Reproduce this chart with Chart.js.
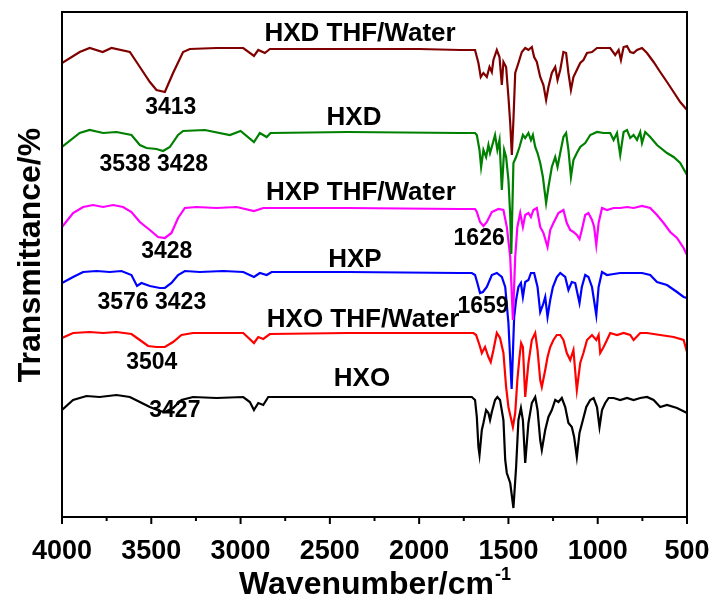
<!DOCTYPE html>
<html>
<head>
<meta charset="utf-8">
<title>FTIR spectra</title>
<script src="https://cdn.jsdelivr.net/npm/chart.js@4.4.1/dist/chart.umd.min.js"></script>
<style>
  html, body { margin: 0; padding: 0; background: #fff; }
  canvas { display: block; }
</style>
</head>
<body>
<canvas id="ftir" width="716" height="601"></canvas>
<script>
// spectra: [wavenumber (cm-1), transmittance with vertical offset (a.u.)]
const hxdWater = [[4000,454],[3901,465],[3845,469],[3772,465],[3723,469],[3620,465],[3564,450],[3508,435],[3471,427],[3424,425],[3378,444],[3322,465],[3284,468],[3135,469],[2985,469],[2925,461],[2901,467],[2864,464],[2836,468],[2400,468],[2000,468],[1771,467],[1687,467],[1668,454],[1655,440],[1640,444],[1621,440],[1606,450],[1593,445],[1584,457],[1565,467],[1550,460],[1537,432],[1528,455],[1513,450],[1500,420],[1490,394],[1481,362],[1472,397],[1462,444],[1444,454],[1425,465],[1406,469],[1388,467],[1369,470],[1356,460],[1341,455],[1322,440],[1304,432],[1289,417],[1276,430],[1257,444],[1238,450],[1225,437],[1210,447],[1192,465],[1177,464],[1164,444],[1150,427],[1136,440],[1117,447],[1098,454],[1080,457],[1060,464],[1032,465],[1004,469],[967,469],[930,469],[902,462],[883,467],[870,457],[855,470],[836,471],[818,465],[799,464],[780,467],[752,469],[724,464],[687,455],[650,445],[612,435],[575,425],[538,415],[500,407]];
const hxd = [[4000,370],[3901,384],[3845,387],[3770,384],[3695,385],[3611,382],[3564,372],[3527,369],[3471,368],[3434,366],[3396,370],[3350,382],[3322,386],[3200,387],[3060,382],[3000,386],[2925,375],[2892,384],[2854,380],[2832,384],[2400,385],[1771,384],[1687,384],[1677,382],[1662,367],[1653,350],[1640,367],[1625,360],[1612,372],[1603,364],[1587,374],[1575,382],[1562,367],[1550,377],[1537,327],[1524,367],[1513,360],[1500,337],[1490,302],[1484,263],[1472,354],[1457,360],[1438,370],[1419,382],[1406,379],[1388,384],[1374,377],[1363,382],[1350,370],[1337,364],[1322,354],[1307,340],[1289,314],[1276,330],[1257,350],[1238,360],[1225,350],[1210,364],[1192,380],[1177,384],[1164,367],[1150,340],[1136,357],[1117,364],[1098,370],[1070,374],[1042,382],[1004,385],[967,384],[930,384],[911,377],[892,384],[874,362],[855,385],[836,387],[818,379],[799,382],[780,377],[762,385],[752,374],[734,385],[706,380],[668,372],[612,364],[575,360],[538,354],[500,342]];
const hxpWater = [[4000,290],[3938,304],[3882,310],[3826,312],[3770,310],[3714,312],[3658,310],[3611,305],[3564,295],[3508,287],[3462,280],[3424,279],[3387,284],[3350,299],[3312,309],[3247,310],[3135,309],[3022,310],[2925,306],[2873,309],[2400,309],[1771,308],[1687,308],[1677,305],[1659,295],[1640,291],[1621,295],[1593,305],[1556,308],[1528,307],[1509,290],[1490,260],[1475,197],[1462,260],[1450,290],[1434,304],[1419,290],[1406,302],[1388,304],[1374,300],[1360,307],[1341,309],[1322,290],[1304,284],[1281,270],[1266,287],[1248,294],[1220,304],[1192,307],[1173,294],[1154,287],[1136,285],[1117,282],[1102,278],[1089,287],[1070,302],[1052,304],[1032,297],[1020,290],[1008,272],[995,294],[976,309],[948,307],[911,309],[874,309],[836,310],[799,309],[752,311],[706,309],[668,302],[631,294],[594,285],[556,279],[519,269],[500,262]];
const hxp = [[4000,234],[3938,240],[3882,245],[3807,246],[3733,245],[3667,246],[3611,242],[3580,231],[3555,234],[3508,231],[3452,229],[3424,229],[3387,234],[3350,242],[3312,246],[3228,245],[3097,246],[2985,245],[2925,240],[2892,244],[2854,242],[2826,245],[2400,245],[1771,244],[1705,244],[1687,242],[1674,234],[1659,224],[1643,225],[1621,230],[1593,242],[1565,244],[1537,240],[1518,230],[1500,194],[1482,128],[1468,200],[1457,217],[1444,230],[1430,234],[1419,220],[1406,235],[1388,237],[1374,244],[1356,244],[1337,230],[1322,205],[1307,212],[1294,220],[1281,200],[1266,217],[1251,230],[1229,240],[1210,244],[1182,240],[1164,227],[1145,235],[1126,234],[1102,214],[1089,230],[1070,242],[1052,240],[1032,230],[1008,202],[995,230],[976,245],[948,242],[911,243],[874,244],[836,244],[799,244],[752,244],[706,242],[668,235],[612,232],[556,225],[519,220],[500,219]];
const hxoWater = [[4000,179],[3938,184],[3845,185],[3770,184],[3695,185],[3611,183],[3564,177],[3518,171],[3471,170],[3424,170],[3378,175],[3331,182],[3266,184],[3135,184],[2985,184],[2925,174],[2901,180],[2873,178],[2836,183],[2400,184],[1771,184],[1696,184],[1681,182],[1662,172],[1649,164],[1631,170],[1612,160],[1599,155],[1584,167],[1565,184],[1547,179],[1528,164],[1513,130],[1500,110],[1475,90],[1462,104],[1450,137],[1438,160],[1429,174],[1419,170],[1406,120],[1388,154],[1369,177],[1350,184],[1337,167],[1322,137],[1313,130],[1294,147],[1281,160],[1266,170],[1248,177],[1229,182],[1210,182],[1192,177],[1173,164],[1154,157],[1136,167],[1117,127],[1098,154],[1080,164],[1060,177],[1032,182],[1008,177],[995,182],[986,164],[967,170],[948,177],[930,184],[892,182],[855,184],[818,182],[799,177],[762,184],[724,184],[650,182],[575,180],[519,177],[500,165]];
const hxo = [[4000,107],[3938,117],[3863,121],[3789,120],[3695,122],[3620,120],[3564,115],[3508,110],[3452,106],[3424,105],[3378,109],[3331,117],[3266,120],[3135,119],[2985,120],[2948,115],[2925,107],[2901,114],[2873,112],[2845,120],[2400,120],[1771,120],[1705,120],[1687,117],[1677,100],[1668,70],[1662,62],[1649,87],[1640,94],[1625,107],[1612,104],[1603,97],[1593,105],[1575,117],[1562,120],[1547,117],[1528,97],[1518,57],[1509,44],[1490,34],[1472,9],[1457,50],[1444,97],[1430,109],[1419,97],[1406,54],[1388,94],[1369,114],[1350,120],[1337,107],[1322,77],[1313,67],[1294,87],[1276,100],[1257,107],[1238,117],[1220,115],[1201,119],[1182,110],[1164,94],[1145,90],[1132,80],[1117,60],[1102,84],[1083,97],[1064,110],[1042,117],[1023,119],[1004,110],[990,90],[976,107],[958,114],[939,119],[911,119],[874,117],[836,119],[799,117],[762,119],[724,120],[687,117],[650,110],[612,112],[556,109],[500,104]];

const seriesNames = ['HXD THF/Water', 'HXD', 'HXP THF/Water', 'HXP', 'HXO THF/Water', 'HXO'];
const seriesColors = ['#800000', '#008000', '#ff00ff', '#0000ff', '#ff0000', '#000000'];
const seriesData = [hxdWater, hxd, hxpWater, hxp, hxoWater, hxo];

// text placed on the plot: [text, wavenumber, transmittance]
const curveLabels = [
  ['HXD THF/Water', 2331, 483], ['HXD', 2365, 399],
  ['HXP THF/Water', 2326, 324], ['HXP', 2360, 257],
  ['HXO THF/Water', 2314, 197], ['HXO', 2320, 138]
];
const peakLabels = [
  ['3413', 3391, 409], ['3538 3428', 3486, 352],
  ['3428', 3413, 265], ['3576 3423', 3497, 214],
  ['3504', 3497, 154], ['3427', 3368, 106],
  ['1626', 1664, 278], ['1659', 1642, 210]
];

const xMin = 500, xMax = 4000, xStep = 500, xMinorStep = 250;
const yMin = 0, yMax = 505;

const FONT = '"Liberation Sans", Arial, sans-serif';

const frameAndText = {
  id: 'frameAndText',
  afterDatasetsDraw(chart) {
    const { ctx, chartArea: a, scales: { x, y } } = chart;
    ctx.save();
    // box around the plot
    ctx.strokeStyle = '#000';
    ctx.lineWidth = 2;
    ctx.strokeRect(a.left, a.top, a.right - a.left, a.bottom - a.top);

    // major and minor ticks pointing out of the bottom axis
    for (let v = xMin; v <= xMax; v += xMinorStep) {
      const px = x.getPixelForValue(v);
      const major = v % xStep === 0;
      ctx.beginPath();
      ctx.moveTo(px, a.bottom);
      ctx.lineTo(px, a.bottom + (major ? 7 : 4));
      ctx.stroke();
    }

    ctx.fillStyle = '#000';
    ctx.textAlign = 'center';
    ctx.textBaseline = 'middle';
    ctx.font = 'bold 26px ' + FONT;
    curveLabels.forEach(([t, wn, v]) => {
      ctx.fillText(t, x.getPixelForValue(wn), y.getPixelForValue(v));
    });
    ctx.font = 'bold 23px ' + FONT;
    peakLabels.forEach(([t, wn, v]) => {
      ctx.fillText(t, x.getPixelForValue(wn), y.getPixelForValue(v));
    });

    // axis titles
    ctx.textBaseline = 'alphabetic';
    const main = 'Wavenumber/cm';
    ctx.font = 'bold 32px ' + FONT;
    const w1 = ctx.measureText(main).width;
    ctx.font = 'bold 18px ' + FONT;
    const w2 = ctx.measureText('-1').width;
    const cx = (a.left + a.right) / 2;
    const startX = cx - (w1 + w2) / 2;
    ctx.textAlign = 'left';
    ctx.font = 'bold 32px ' + FONT;
    ctx.fillText(main, startX, 594);
    ctx.font = 'bold 18px ' + FONT;
    ctx.fillText('-1', startX + w1 + 1, 580);

    ctx.translate(31, 255);
    ctx.rotate(-Math.PI / 2);
    ctx.textAlign = 'center';
    ctx.textBaseline = 'middle';
    ctx.font = 'bold 32px ' + FONT;
    ctx.fillText('Transmittance/%', 0, 0);
    ctx.restore();
  }
};

new Chart(document.getElementById('ftir'), {
  type: 'line',
  data: {
    datasets: seriesData.map((d, i) => ({
      label: seriesNames[i],
      data: d.map(([wn, t]) => ({ x: wn, y: t })),
      borderColor: seriesColors[i],
      borderWidth: 2.2,
      pointRadius: 0,
      tension: 0,
      fill: false
    }))
  },
  options: {
    responsive: false,
    animation: false,
    devicePixelRatio: 1,
    layout: { padding: { left: 62, right: 29, top: 12, bottom: 0 } },
    plugins: { legend: { display: false }, tooltip: { enabled: false } },
    scales: {
      x: {
        type: 'linear',
        reverse: true,
        min: xMin,
        max: xMax,
        grid: { display: false, drawTicks: false },
        border: { display: false },
        ticks: {
          stepSize: xStep,
          padding: 18,
          maxRotation: 0,
          autoSkip: false,
          color: '#000',
          font: { family: FONT, size: 27, weight: 'bold' },
          callback: (v) => String(v)
        },
        afterFit(scale) {
          scale.height = 84;
          scale.paddingLeft = 0;
          scale.paddingRight = 0;
        }
      },
      y: {
        display: false,
        min: yMin,
        max: yMax
      }
    }
  },
  plugins: [frameAndText]
});
</script>
</body>
</html>
